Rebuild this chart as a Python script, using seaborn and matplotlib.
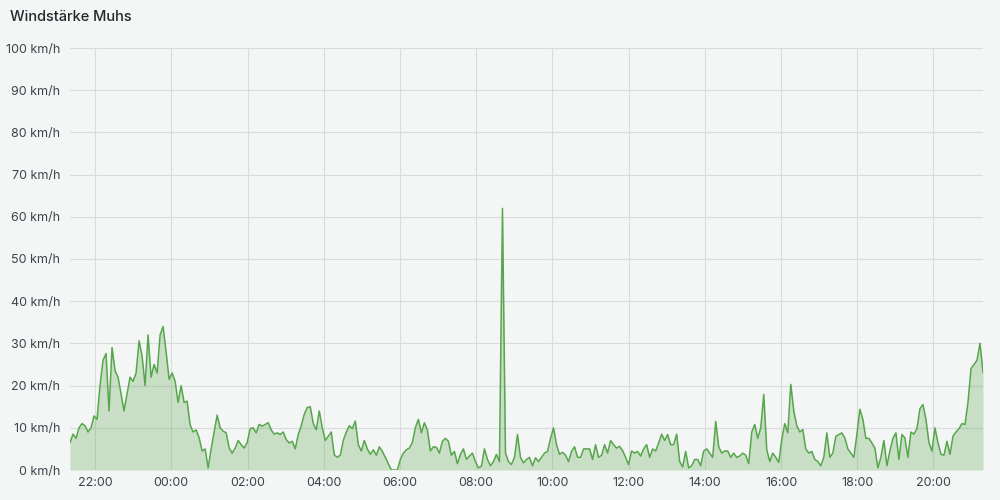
import matplotlib
matplotlib.use("Agg")
import matplotlib.pyplot as plt
import matplotlib.dates as mdates
import seaborn as sns
import pandas as pd


# wind speed readings (km/h), roughly every 4.7 minutes
wind_evening = [
    6.5, 8.5, 7.5, 10, 11, 10.5, 9, 10, 12.8, 12,
    20, 26, 27.6, 14, 29, 23.5, 22, 18, 14, 18,
    22, 21, 23, 30.6, 27, 20, 32, 22, 25, 23,
    32, 34, 28, 21.5, 23, 21, 16, 20, 16, 16.3,
    10.7, 9, 9.5, 7.6, 4.5, 5, 0.5, 5, 9, 13,
]
wind_night = [
    10, 9.2, 8.8, 5.2, 4, 5.2, 7, 6, 5.2, 6.5,
    9.8, 10, 8.8, 10.8, 10.4, 10.8, 11.2, 9.5, 8.5, 8.8,
    8.4, 9, 7.2, 6.4, 6.8, 5, 8.4, 10.5, 13.2, 14.8,
    15, 11, 9.5, 14, 10, 7, 8, 9, 3.6, 3,
    3.5, 7, 9, 10.5, 9.8, 11.6, 6, 4.5, 7, 5,
    3.7,
]
wind_morning = [
    4.8, 3.5, 5.5, 4.4, 3, 1.5, 0, 0, 0, 2.5,
    4, 4.8, 5.2, 6.5, 10, 12, 8.8, 11.2, 9.5, 4.5,
    5.5, 5.4, 4, 6.8, 7.5, 6.8, 3.5, 4.4, 1.5, 3.7,
    5, 2.5, 3.3, 4, 2, 0.5, 0.9, 5, 2.5, 1,
    2, 3.7, 2, 62, 4, 2, 1.3, 3, 8.4, 3,
    1.7, 2.5,
]
wind_midday = [
    3, 1, 2.9, 2, 3, 4, 4.4, 7.5, 10, 6,
    3.7, 4.2, 3.5, 2, 4.4, 5.5, 3, 3, 5, 5,
    5, 2.5, 6, 3, 3.5, 6, 4, 7, 6, 5.2,
    5.6, 4.6, 3, 1.3, 4.5, 4, 4.4, 3.3, 5, 6,
    3, 5, 4.5, 6.4, 8.5, 7, 8.4, 6, 6, 8.5,
    2, 0.7,
]
wind_afternoon = [
    4.4, 0.5, 1, 2.5, 2.5, 1, 4.5, 5, 4, 3,
    11.5, 5.5, 4, 4.5, 4.5, 3, 4, 3, 3.3, 4,
    3.5, 1.5, 9, 10.8, 7.5, 10, 17.9, 4.8, 2, 4,
    3, 1.8, 7.2, 11, 8.8, 20.3, 14, 10.5, 9, 9.6,
    5, 4, 4.4, 2.5, 2, 1, 3, 8.8, 3, 4,
    8, 8.4,
]
wind_late = [
    8.8, 7.6, 5, 4, 3, 8.4, 14.4, 12, 7.5, 7.5,
    6.4, 5.2, 0.5, 3, 7, 1, 4.5, 7.5, 8.8, 2.5,
    8.4, 7.6, 3, 9, 8.5, 9.8, 14.5, 15.5, 12, 6.5,
    4.5, 10, 6.5, 3.7, 3.5, 6.8, 3.7, 8, 9, 9.8,
    11, 10.8, 16, 24, 25, 26, 30, 23.1,
]

y_ticks = [0, 10, 20, 30, 40, 50, 60, 70, 80, 90, 100]
y_labels = [f"{v} km/h" for v in y_ticks]

speed = wind_evening + wind_night + wind_morning + wind_midday + wind_afternoon + wind_late
times = pd.date_range("2024-05-01 21:20:30", "2024-05-02 21:18:00", periods=len(speed))
df = pd.DataFrame({"time": times, "speed": speed})

bg = "#f4f5f5"
green = "#56a64b"
text_col = "#3d434b"

sns.set_theme(style="whitegrid")
plt.rcParams["font.family"] = ["Inter", "DejaVu Sans"]

fig = plt.figure(figsize=(10, 5), dpi=100, facecolor=bg)
ax = fig.add_axes([0.070, 0.06, 0.913, 0.844])
ax.set_facecolor(bg)

sns.lineplot(data=df, x="time", y="speed", color=green, linewidth=1.1, ax=ax)
ax.fill_between(df["time"], df["speed"], 0, color=green, alpha=0.28, linewidth=0)

ax.set_xlim(times[0], times[-1])
ax.set_ylim(0, 100)
ax.set_yticks(y_ticks)
ax.set_yticklabels(y_labels)

ax.xaxis.set_major_locator(mdates.HourLocator(byhour=range(0, 24, 2)))
ax.xaxis.set_major_formatter(mdates.DateFormatter("%H:%M"))

ax.set_xlabel("")
ax.set_ylabel("")
ax.grid(True, color="#d9dbdc", linewidth=0.8)
ax.tick_params(axis="both", length=0, labelsize=9, colors=text_col)
ax.tick_params(axis="y", pad=7)
ax.tick_params(axis="x", pad=5)
for s in ax.spines.values():
    s.set_visible(False)

fig.text(0.010, 0.966, "Windstärke Muhs", fontsize=10.5, fontweight="medium",
         color="#24292e", ha="left", va="center")

fig.savefig("out.png", dpi=100, facecolor=bg)
